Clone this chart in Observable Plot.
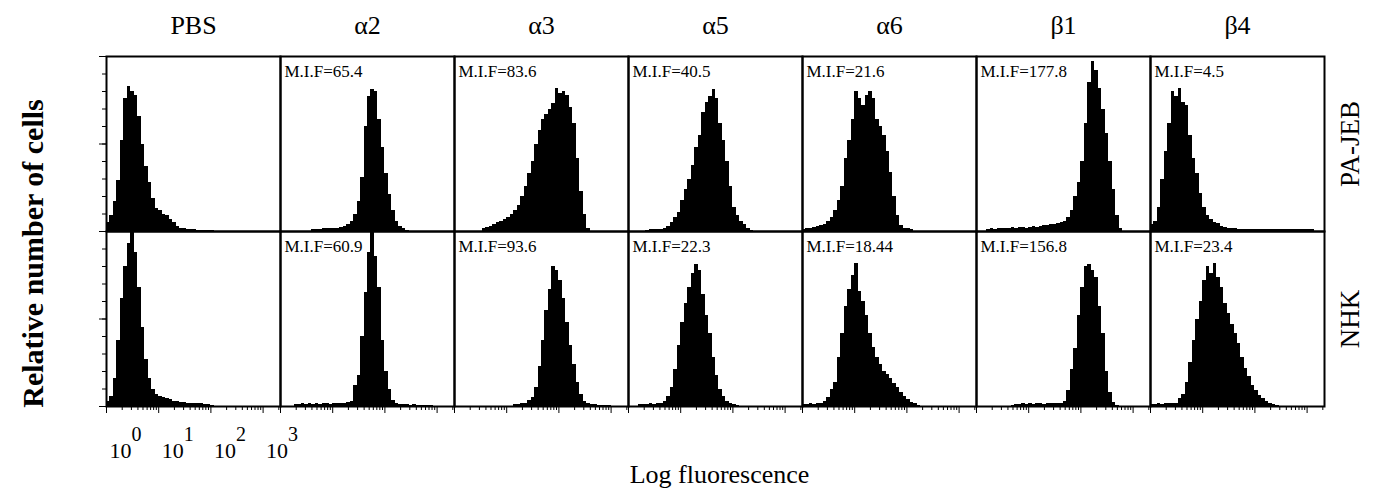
<!DOCTYPE html>
<html><head><meta charset="utf-8">
<script src="https://cdn.jsdelivr.net/npm/d3@7"></script>
<script src="https://cdn.jsdelivr.net/npm/@observablehq/plot@0.6"></script>
<style>body{margin:0;background:#fff} svg{display:block}</style>
</head><body><div id="chart"></div>
<script>
// ---- categories / labels ----
const cols = ["PBS","α2","α3","α5","α6","β1","β4"];
const rowNames = ["PA-JEB","NHK"];
const mifPAJEB = [null,"65.4","83.6","40.5","21.6","177.8","4.5"];
const mifNHK   = [null,"60.9","93.6","22.3","18.44","156.8","23.4"];
const binsPerDecade = 15;          // 50 channels cover 3.33 decades
const nBins = 50;
const decadeTicks = [0,1,2,3];
const decadeExponents = ["0","1","2","3"];
const minorSteps = [2,3,4,5,6,7,8,9];
const yLabel = "Relative number of cells";
const xLabel = "Log fluorescence";

// ---- histograms (relative cell counts, % of panel height), 50 channels each ----
const pbsJEB = [5,9,17,29,52,76,83,80,78,66,50,37,28,19,13,12,10,9,7,5,3,2,1.5,1,1,1,0.5,0.5,0.5,0.5,0.5,0,0,0,0,0,0,0,0,0,0,0,0,0,0,0,0,0,0,0];
const a2JEB  = [0,0,0,0,0,0,0,0,0,1,1,1,1.5,1.5,2,2,2,2.5,3,4,6,10,17,31,60,77,81,80,64,48,33,21,12,6,3,1.5,0.5,0,0,0,0,0,0,0,0,0,0,0,0,0];
const a3JEB  = [0,0,0,0,0,0,0,0,1.5,2.5,3,4,5,5.5,7,8,10,12,15,20,26,33,40,50,58,64,67,70,73,82,79,80,78,71,62,42,23,10,1.5,0,0,0,0,0,0,0,0,0,0,0];
const a5JEB  = [0,0,0,0,0,0.5,1,1,1,1,2,3,5,8,11,18,24,30,38,48,55,68,74,77,81,76,62,52,40,26,14,9,6,4,2,0.5,0,0,0,0,0,0,0,0,0,0,0,0,0,0];
const a6JEB  = [1,1.5,2,2.5,3,3.5,4,6,8,12,18,26,42,52,64,80,76,72,78,80,76,64,60,55,46,34,20,9,3.5,1.5,1.5,1,0,0,0,0,0,0,0,0,0,0,0,0,0,0,0,0,0,0];
const b1JEB  = [0,0,0,1,1.5,1,1.5,1.5,2,2,2.5,2,2.5,2.5,2,2.5,3,2.5,3,3.5,3.5,4,4,4.5,5,6,8,12,20,28,40,62,85,97,92,82,70,56,40,24,9,2,0,0,0,0,0,0,0,0];
const b4JEB  = [4,6,14,30,46,62,80,77,82,74,72,55,42,33,22,14,9,7,5,4.5,3,2.5,2,1.5,1.5,1,1,1,1,1,1,1,1,1,1,1,1,1,1,1,1,1,1,1,1,1,1,0,0,0];

const pbsNHK = [3,6,16,38,62,80,93,100,88,68,45,27,16,10,7,6,5,4.5,4,3,3,2.5,2.5,2,2,2,1.5,1.5,1,1,0.5,0,0,0,0,0,0,0,0,0,0,0,0,0,0,0,0,0,0,0];
const a2NHK  = [0,0,0,0,1,1,1.5,1,1.5,1,1.5,1,1.5,1.5,1,1.5,1.5,2,2,2.5,3,12,18,40,65,88,100,86,68,38,20,10,3.5,1.5,1,1,1,0.5,1,0.5,0.5,0.5,0.5,0.5,0,0,0,0,0,0];
const a3NHK  = [0,0,0,0,0,0,0,0,0,0,0,0,0,0,0,0,0,1,1,1.5,2,3.5,5,11,23,38,55,67,80,78,72,62,48,35,24,14,7,3,1.5,1,1,0.5,0.5,0.5,0.5,0,0,0,0,0];
const a5NHK  = [0,0,0,1,1,1,1.5,1,1.5,2,3,6,11,21,35,48,59,68,76,81,78,64,52,42,28,18,10,6,3,2,1.3,0.8,0,0,0,0,0,0,0,0,0,0,0,0,0,0,0,0,0,0];
const a6NHK  = [1,1,1.5,1,1.5,2,3,5,10,14,28,42,57,67,75,82,66,60,52,42,34,28,24,20,18.5,16,13,11,8,5.5,4,2.5,1.5,0.5,0,0,0,0,0,0,0,0,0,0,0,0,0,0,0,0];
const b1NHK  = [0,0,0,0,0,0,0,0,0,0,0.5,1,1,1.5,1,1.5,1,1.5,1.5,1,1.5,1.5,1.5,2,2,3,9,21,33,52,68,80,81,78,74,57,42,20,8,2.3,0.5,0,0,0,0,0,0,0,0,0];
const b4NHK  = [1,1,1.5,1,1.5,1.5,1.5,2,4.5,7,14,25,38,50,60,72,80,76,82,74,68,59,53,47,42,36,28,22,17,12,9,6.5,4.5,3,1.7,1,0.5,0,0,0,0,0,0,0,0,0,0,0,0,0];

// ---- build tables ----
const histos = {
  "PA-JEB": [pbsJEB,a2JEB,a3JEB,a5JEB,a6JEB,b1JEB,b4JEB],
  "NHK":    [pbsNHK,a2NHK,a3NHK,a5NHK,a6NHK,b1NHK,b4NHK]
};
const bars = [];
rowNames.forEach(r => histos[r].forEach((arr, ci) => arr.forEach((v, i) => {
  if (v > 0) bars.push({row: r, col: cols[ci], x1: i / binsPerDecade, x2: (i + 1) / binsPerDecade, count: v});
})));
const xMax = nBins / binsPerDecade;
const minorTicks = decadeTicks.flatMap(d => minorSteps.map(k => d + Math.log10(k))).filter(v => v < xMax);
const mifData = [];
[mifPAJEB, mifNHK].forEach((arr, ri) => arr.forEach((m, ci) => {
  if (m) mifData.push({row: rowNames[ri], col: cols[ci], text: "M.I.F=" + m});
}));

const serif = "'Liberation Serif','Times New Roman',Times,serif";
const chart = Plot.plot({
  width: 1375, height: 488,
  marginLeft: 104, marginRight: 49, marginTop: 56, marginBottom: 82,
  style: {fontFamily: serif, background: "#fff", color: "#000"},
  x: {domain: [0, xMax], axis: null},
  y: {domain: [0, 100], axis: null},
  fx: {domain: cols, padding: 0, axis: null},
  fy: {domain: rowNames, padding: 0, axis: null},
  marks: [
    Plot.rectY(bars, {x1: "x1", x2: "x2", y: "count", fx: "col", fy: "row", fill: "#000", inset: 0, shapeRendering: "crispEdges"}),
    Plot.frame({stroke: "#000", strokeWidth: 2}),
    Plot.axisY({ticks: d3.range(0, 101, 10), tickSize: 4, tickFormat: () => "", label: null}),
    Plot.axisY({ticks: [0, 50, 100], tickSize: 7, tickFormat: () => "", label: null}),
    Plot.axisX({ticks: minorTicks, tickSize: 4, tickFormat: () => "", label: null}),
    Plot.axisX({ticks: decadeTicks, tickSize: 7, tickFormat: () => "", label: null}),
    Plot.axisFx({anchor: "top", tickSize: 0, tickPadding: 23, fontSize: 26, label: null}),
    Plot.text(decadeTicks, {x: d => d, fx: () => "PBS", fy: () => "NHK", text: () => "10",
      frameAnchor: "bottom", textAnchor: "start", lineAnchor: "bottom", dx: 3, dy: 51, fontSize: 22}),
    Plot.text(decadeTicks, {x: d => d, fx: () => "PBS", fy: () => "NHK", text: (d, i) => decadeExponents[i],
      frameAnchor: "bottom", textAnchor: "start", lineAnchor: "bottom", dx: 25, dy: 34, fontSize: 20}),
    Plot.text(mifData, {fx: "col", fy: "row", text: "text", frameAnchor: "top-left", dx: 4, dy: 8, fontSize: 17,
      letterSpacing: "-0.3px"}),
    Plot.text(rowNames, {fx: () => cols[cols.length - 1], fy: d => d, text: d => d, frameAnchor: "right",
      rotate: -90, dx: 26, textAnchor: "middle", lineAnchor: "middle", fontSize: 27}),
    Plot.text([yLabel], {fx: () => "PBS", fy: () => "NHK", frameAnchor: "top-left", rotate: -90, dx: -73, dy: 22,
      textAnchor: "middle", lineAnchor: "middle", fontSize: 30, fontWeight: "bold"}),
    Plot.text([xLabel], {fx: () => "α5", fy: () => "NHK", frameAnchor: "bottom", dy: 76, dx: 4,
      textAnchor: "middle", lineAnchor: "bottom", fontSize: 26})
  ]
});
document.getElementById("chart").appendChild(chart);
</script>
</body></html>
